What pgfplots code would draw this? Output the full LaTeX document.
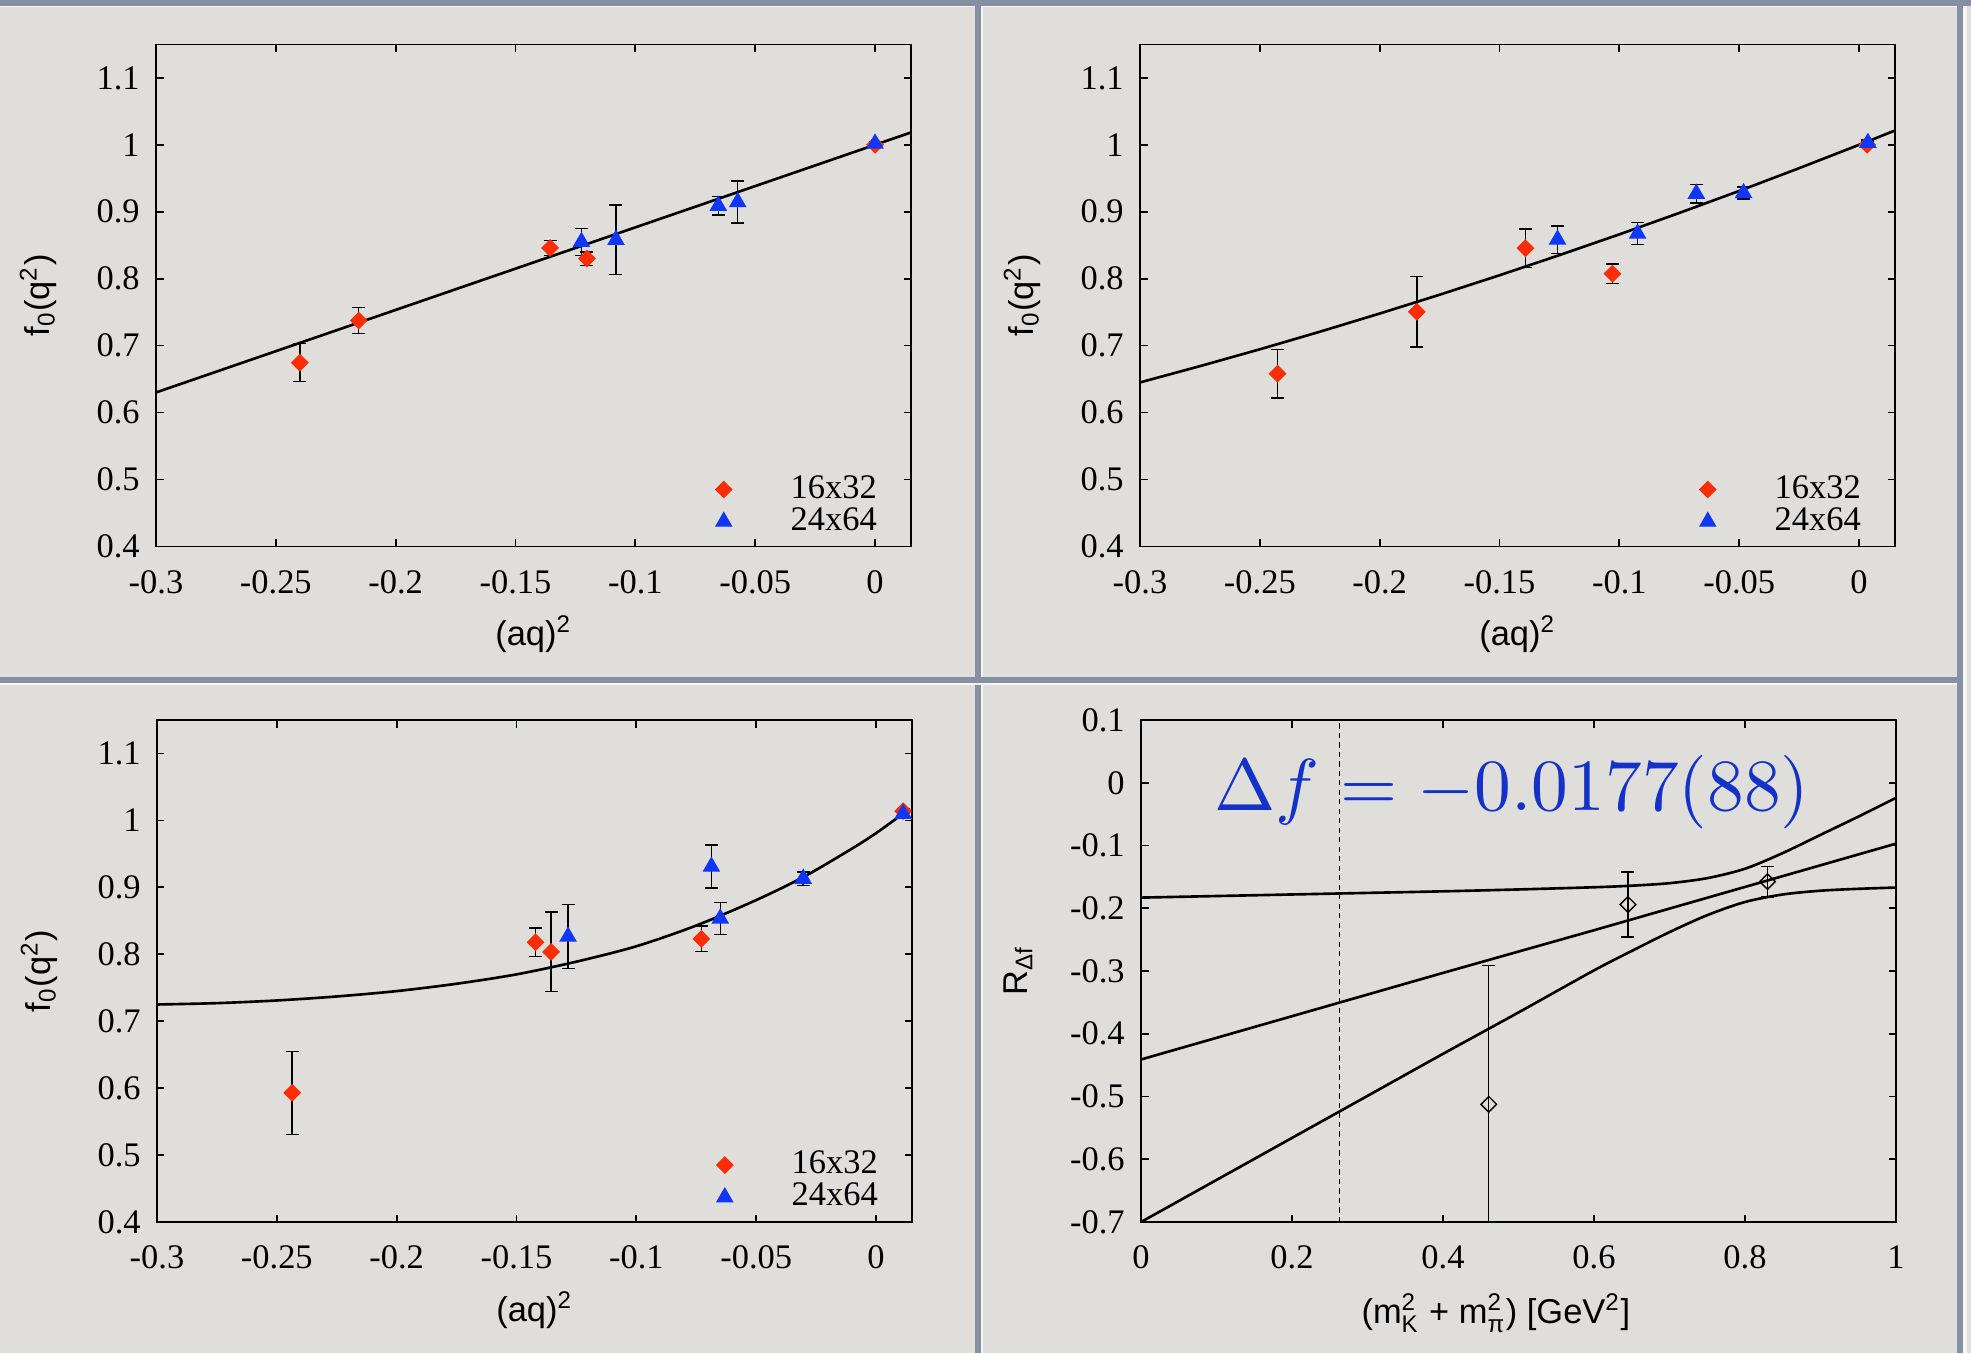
\documentclass[border=0pt]{standalone}
\usepackage{amsmath}
\usepackage{graphicx}
\usepackage[no-math]{fontspec}
\setmainfont{Liberation Serif}
\setsansfont{Liberation Sans}
\usepackage{pgfplots}
\pgfplotsset{compat=1.18}

\definecolor{paper}{RGB}{223,222,218}
\definecolor{frameblue}{RGB}{133,145,162}
\definecolor{ptred}{RGB}{250,45,5}
\definecolor{ptblue}{RGB}{15,55,250}
\definecolor{fblue}{RGB}{20,50,200}

\newcommand{\tickfont}{\fontsize{9.8}{11}\selectfont\rmfamily}
\newcommand{\labfont}{\fontsize{9.8}{11}\selectfont\sffamily}

\pgfplotsset{
  panel/.style={
    scale only axis, width=7.55cm, height=5.02cm, anchor=south west,
    axis line style={line width=0.5pt},
    every tick/.style={line width=0.5pt, black},
    major tick length=0.075cm,
    tick align=inside,
    scaled ticks=false,
    ticklabel style={font=\tickfont},
    xticklabel style={yshift=-0.115cm},
    yticklabel style={xshift=-0.04cm},
    label style={font=\labfont},
  },
  fpanel/.style={
    panel,
    xmin=-0.3, xmax=0.015, ymin=0.4, ymax=1.15,
    xtick={-0.3,-0.25,-0.2,-0.15,-0.1,-0.05,0},
    xticklabels={-0.3,-0.25,-0.2,-0.15,-0.1,-0.05,0},
    ytick={0.4,0.5,0.6,0.7,0.8,0.9,1,1.1},
    yticklabels={0.4,0.5,0.6,0.7,0.8,0.9,1,1.1},
    xlabel={(aq)\textsuperscript{2}},
    ylabel={f\textsubscript{0}(q\textsuperscript{2})},
    xlabel style={at={(axis description cs:0.5,-0.175)}, anchor=center},
    ylabel style={at={(axis description cs:-0.156,0.5)}, anchor=center, rotate=0},
    legend cell align=right,
    legend style={draw=none, fill=none, inner sep=0pt, font=\tickfont,
      column sep=0.52cm, row sep=-0.1cm,
      at={(axis description cs:0.965,0.006)}, anchor=south east},
  },
  fit/.style={black, line width=0.75pt, no markers},
  errs/.style={only marks,
    error bars/y dir=both, error bars/y explicit,
    error bars/error bar style={line width=0.4pt, black},
    error bars/error mark options={rotate=90, mark size=0.065cm, line width=0.4pt, black}},
  redpts/.style={errs, mark=square*, mark size=0.056cm,
    mark options={rotate=45, fill=ptred, draw=ptred}},
  bluepts/.style={errs, mark=triangle*, mark size=0.088cm,
    mark options={fill=ptblue, draw=ptblue}},
}

\begin{document}
\begin{tikzpicture}
\useasboundingbox (0,0) rectangle (19.71,13.53);
\fill[paper] (0,0) rectangle (19.71,13.53);
% slide frame lines
\fill[frameblue] (0,13.47) rectangle (19.71,13.53);
\fill[white!70!paper] (0,13.455) rectangle (19.57,13.47);
\fill[frameblue] (19.57,0) rectangle (19.63,13.53);
\fill[white!70!paper] (19.63,0) rectangle (19.67,13.47);
\fill[frameblue] (9.75,0) rectangle (9.805,13.47);
\fill[white!70!paper] (9.805,0) rectangle (9.825,13.47);
\fill[frameblue] (0,6.70) rectangle (19.57,6.755);
\fill[white!70!paper] (0,6.68) rectangle (19.57,6.70);

% top left
\begin{axis}[fpanel, at={(1.56cm,8.066cm)}]
\addplot[fit, forget plot] coordinates {(-0.3,0.630) (0.015,1.0185)};
\addplot[redpts] table[x=x, y=y, y error=e] {
x y e
-0.2400 0.6745 0.0285
-0.2154 0.7375 0.0195
-0.1356 0.8460 0.0110
-0.1202 0.8300 0.0100
0.0000 1.0000 0.0030
};
\addplot[bluepts] table[x=x, y=y, y error=e] {
x y e
-0.1225 0.8550 0.0200
-0.1081 0.8580 0.0520
-0.0654 0.9090 0.0140
-0.0573 0.9145 0.0315
0.0000 1.0020 0.0030
};
\legend{16x32, 24x64}
\end{axis}

% top right
\begin{axis}[fpanel, at={(11.40cm,8.066cm)}]
\addplot[fit, forget plot] coordinates {
(-0.300,0.6450) (-0.275,0.6693) (-0.250,0.6945) (-0.225,0.7207)
(-0.200,0.7479) (-0.175,0.7760) (-0.150,0.8051) (-0.125,0.8352)
(-0.100,0.8662) (-0.075,0.8982) (-0.050,0.9311) (-0.025,0.9651)
(0.000,1.0000) (0.015,1.0214)};
\addplot[redpts] table[x=x, y=y, y error=e] {
x y e
-0.2426 0.6580 0.0360
-0.1845 0.7505 0.0525
-0.1392 0.8455 0.0285
-0.1029 0.8075 0.0145
0.0034 1.0000 0.0040
};
\addplot[bluepts] table[x=x, y=y, y error=e] {
x y e
-0.1258 0.8585 0.0205
-0.0924 0.8675 0.0165
-0.0679 0.9270 0.0140
-0.0482 0.9280 0.0090
0.0037 1.0030 0.0040
};
\legend{16x32, 24x64}
\end{axis}

% bottom left
\begin{axis}[fpanel, at={(1.57cm,1.31cm)}]
\addplot[fit, forget plot, smooth] coordinates {
(-0.300,0.725) (-0.275,0.727) (-0.250,0.731) (-0.225,0.737)
(-0.200,0.745) (-0.175,0.756) (-0.150,0.770) (-0.125,0.789)
(-0.100,0.812) (-0.075,0.843) (-0.050,0.881) (-0.030,0.916)
(-0.010,0.958) (0.000,0.981) (0.012,1.012)};
\addplot[redpts] table[x=x, y=y, y error=e] {
x y e
-0.2436 0.5930 0.0620
-0.1421 0.8180 0.0210
-0.1356 0.8035 0.0595
-0.0729 0.8230 0.0190
0.0113 1.0140 0.0040
};
\addplot[bluepts] table[x=x, y=y, y error=e] {
x y e
-0.1285 0.8265 0.0475
-0.0687 0.9310 0.0320
-0.0650 0.8535 0.0235
-0.0304 0.9130 0.0100
0.0113 1.0100 0.0070
};
\legend{16x32, 24x64}
\end{axis}

% bottom right
\begin{axis}[panel, at={(11.41cm,1.31cm)},
  xmin=0, xmax=1, ymin=-0.7, ymax=0.1,
  xtick={0,0.2,0.4,0.6,0.8,1},
  xticklabels={0,0.2,0.4,0.6,0.8,1},
  ytick={-0.7,-0.6,-0.5,-0.4,-0.3,-0.2,-0.1,0,0.1},
  yticklabels={-0.7,-0.6,-0.5,-0.4,-0.3,-0.2,-0.1,0,0.1},
  xlabel={(m$^{\text{2}}_{\text{K}}$ + m$^{\text{2}}_{\text{π}}$) [GeV\textsuperscript{2}]},
  ylabel={R\textsubscript{Δf}},
  xlabel style={at={(axis description cs:0.47,-0.182)}, anchor=center},
  ylabel style={at={(axis description cs:-0.163,0.5)}, anchor=center, rotate=0},
]
\addplot[black, line width=0.3pt, dash pattern=on 1.5pt off 1.2pt] coordinates {(0.2626,-0.7) (0.2626,0.1)};
\addplot[fit] coordinates {(0,-0.441) (0.2,-0.372) (0.4,-0.303) (0.6,-0.235) (0.8,-0.166) (1,-0.097)};
\addplot[fit, smooth] coordinates {
(0,-0.183) (0.1,-0.1805) (0.2,-0.178) (0.3,-0.1755) (0.4,-0.173)
(0.5,-0.170) (0.6,-0.1665) (0.65,-0.164) (0.7,-0.160) (0.75,-0.152)
(0.8,-0.137) (0.85,-0.112) (0.9,-0.083) (0.95,-0.054) (1.0,-0.024)};
\addplot[fit, smooth] coordinates {
(0,-0.700) (0.1,-0.633) (0.2,-0.566) (0.3,-0.499) (0.4,-0.432)
(0.5,-0.366) (0.6,-0.299) (0.65,-0.268) (0.7,-0.238) (0.75,-0.211)
(0.8,-0.190) (0.85,-0.178) (0.9,-0.172) (0.95,-0.169) (1.0,-0.167)};
\addplot[errs, mark=square, mark size=0.055cm,
  mark options={rotate=45, black, line width=0.4pt}] table[x=x, y=y, y error=e] {
x y e
0.4606 -0.5124 0.2214
0.6450 -0.1940 0.0520
0.8297 -0.1575 0.0245
};
\node[anchor=base west, inner sep=0pt, text=fblue] at (axis cs:0.0966,-0.044)
  {\scalebox{2.09}{$\Delta f = -0.0177(88)$}};
\end{axis}
\end{tikzpicture}
\end{document}
